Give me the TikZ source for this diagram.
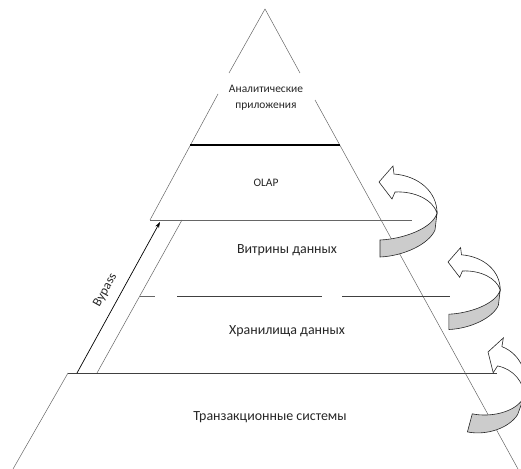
\documentclass[tikz,border=0pt]{standalone}
\usepackage{fontspec}
\setmainfont{Carlito}
\usetikzlibrary{arrows.meta}
\begin{document}
\begin{tikzpicture}[x=1bp,y=-1bp,
  edge/.style={draw=black!60, line width=0.5bp},
  lvl/.style={font=\fontsize{14}{16}\selectfont, inner sep=0, text=black!85},
  small/.style={font=\fontsize{11.5}{13}\selectfont, inner sep=0, text=black!85},
  byfont/.style={font=\fontsize{13}{15}\selectfont, inner sep=0, text=black!85},
  ribbon/.style={fill=black!20, draw=black!85, line width=0.6bp},
  arrhead/.style={fill=white, draw=black!85, line width=0.6bp},
  uturn/.pic={
    \draw[ribbon] (1,58) .. controls (25,57) and (54,46) .. (58,31) -- (56,48) .. controls (50,62) and (25,74) .. (1,75) -- cycle;
    \draw[arrhead] (0,0) -- (14,-16) -- (15,-8) .. controls (40,-6) and (58,10) .. (58,31) .. controls (54,18) and (36,9) .. (16,10) -- (13,17) -- cycle;
  }]
\useasboundingbox (0,0) rectangle (521,469);
\clip (0,0) rectangle (521,469);
% outline coordinates
\coordinate (apex) at (265,9);
\coordinate (lt1) at (229,73);
\coordinate (lt2) at (218,94);
\coordinate (rt1) at (300,73);
\coordinate (rt2) at (315,100);
\coordinate (l145) at (190,145);
\coordinate (r145) at (340,145);
\coordinate (l220) at (150,220);
\coordinate (r220) at (412,220);
\coordinate (i220) at (182,220);
\coordinate (i373) at (97,373);
\coordinate (l373) at (68,373);
\coordinate (r373) at (497,373);
\coordinate (lbot) at (13,469);
\coordinate (rbot) at (518,469);
% pyramid edges
\draw[edge] (apex) -- (lt1);
\draw[edge] (lt2) -- (l220);
\draw[edge] (apex) -- (rt1);
\draw[edge] (rt2) -- (rbot);
\draw[line width=1.1bp] (l145) -- (r145);
\draw[edge] (l220) -- (r220);
\draw[edge] (i220) -- (i373);
\draw[edge] (140,296) -- (155,296);
\draw[edge, draw=black!75] (177,296) -- (322,296);
\draw[edge, draw=black!75] (342,296) -- (450,296);
\draw[edge, draw=black!75] (l373) -- (r373);
\draw[edge] (l373) -- (lbot);
% labels
\node[small] (t1) at (266,89) {Аналитические};
\node[small] (t2) at (266,107) {приложения};
\node[small] (olap) at (266,183) {OLAP};
\node[lvl] (vit) at (287,250) {Витрины данных};
\node[lvl] (hran) at (287,331) {Хранилища данных};
\node[lvl] (tran) at (270,417) {Транзакционные системы};
% bypass
\coordinate (bs) at (77,373);
\coordinate (be) at (160,222);
\draw[-{Stealth[length=6bp,width=4bp]}, line width=0.7bp] (bs) -- (be)
  node[midway, sloped, above=15bp, anchor=center, byfont] (byp) {Bypass};
% u-turn arrows
\pic at (379,182) {uturn};
\pic[scale=0.9] at (448,262) {uturn};
\pic[rotate=-15, xscale=0.8, yscale=1.1] at (488,352) {uturn};
\end{tikzpicture}
\end{document}
